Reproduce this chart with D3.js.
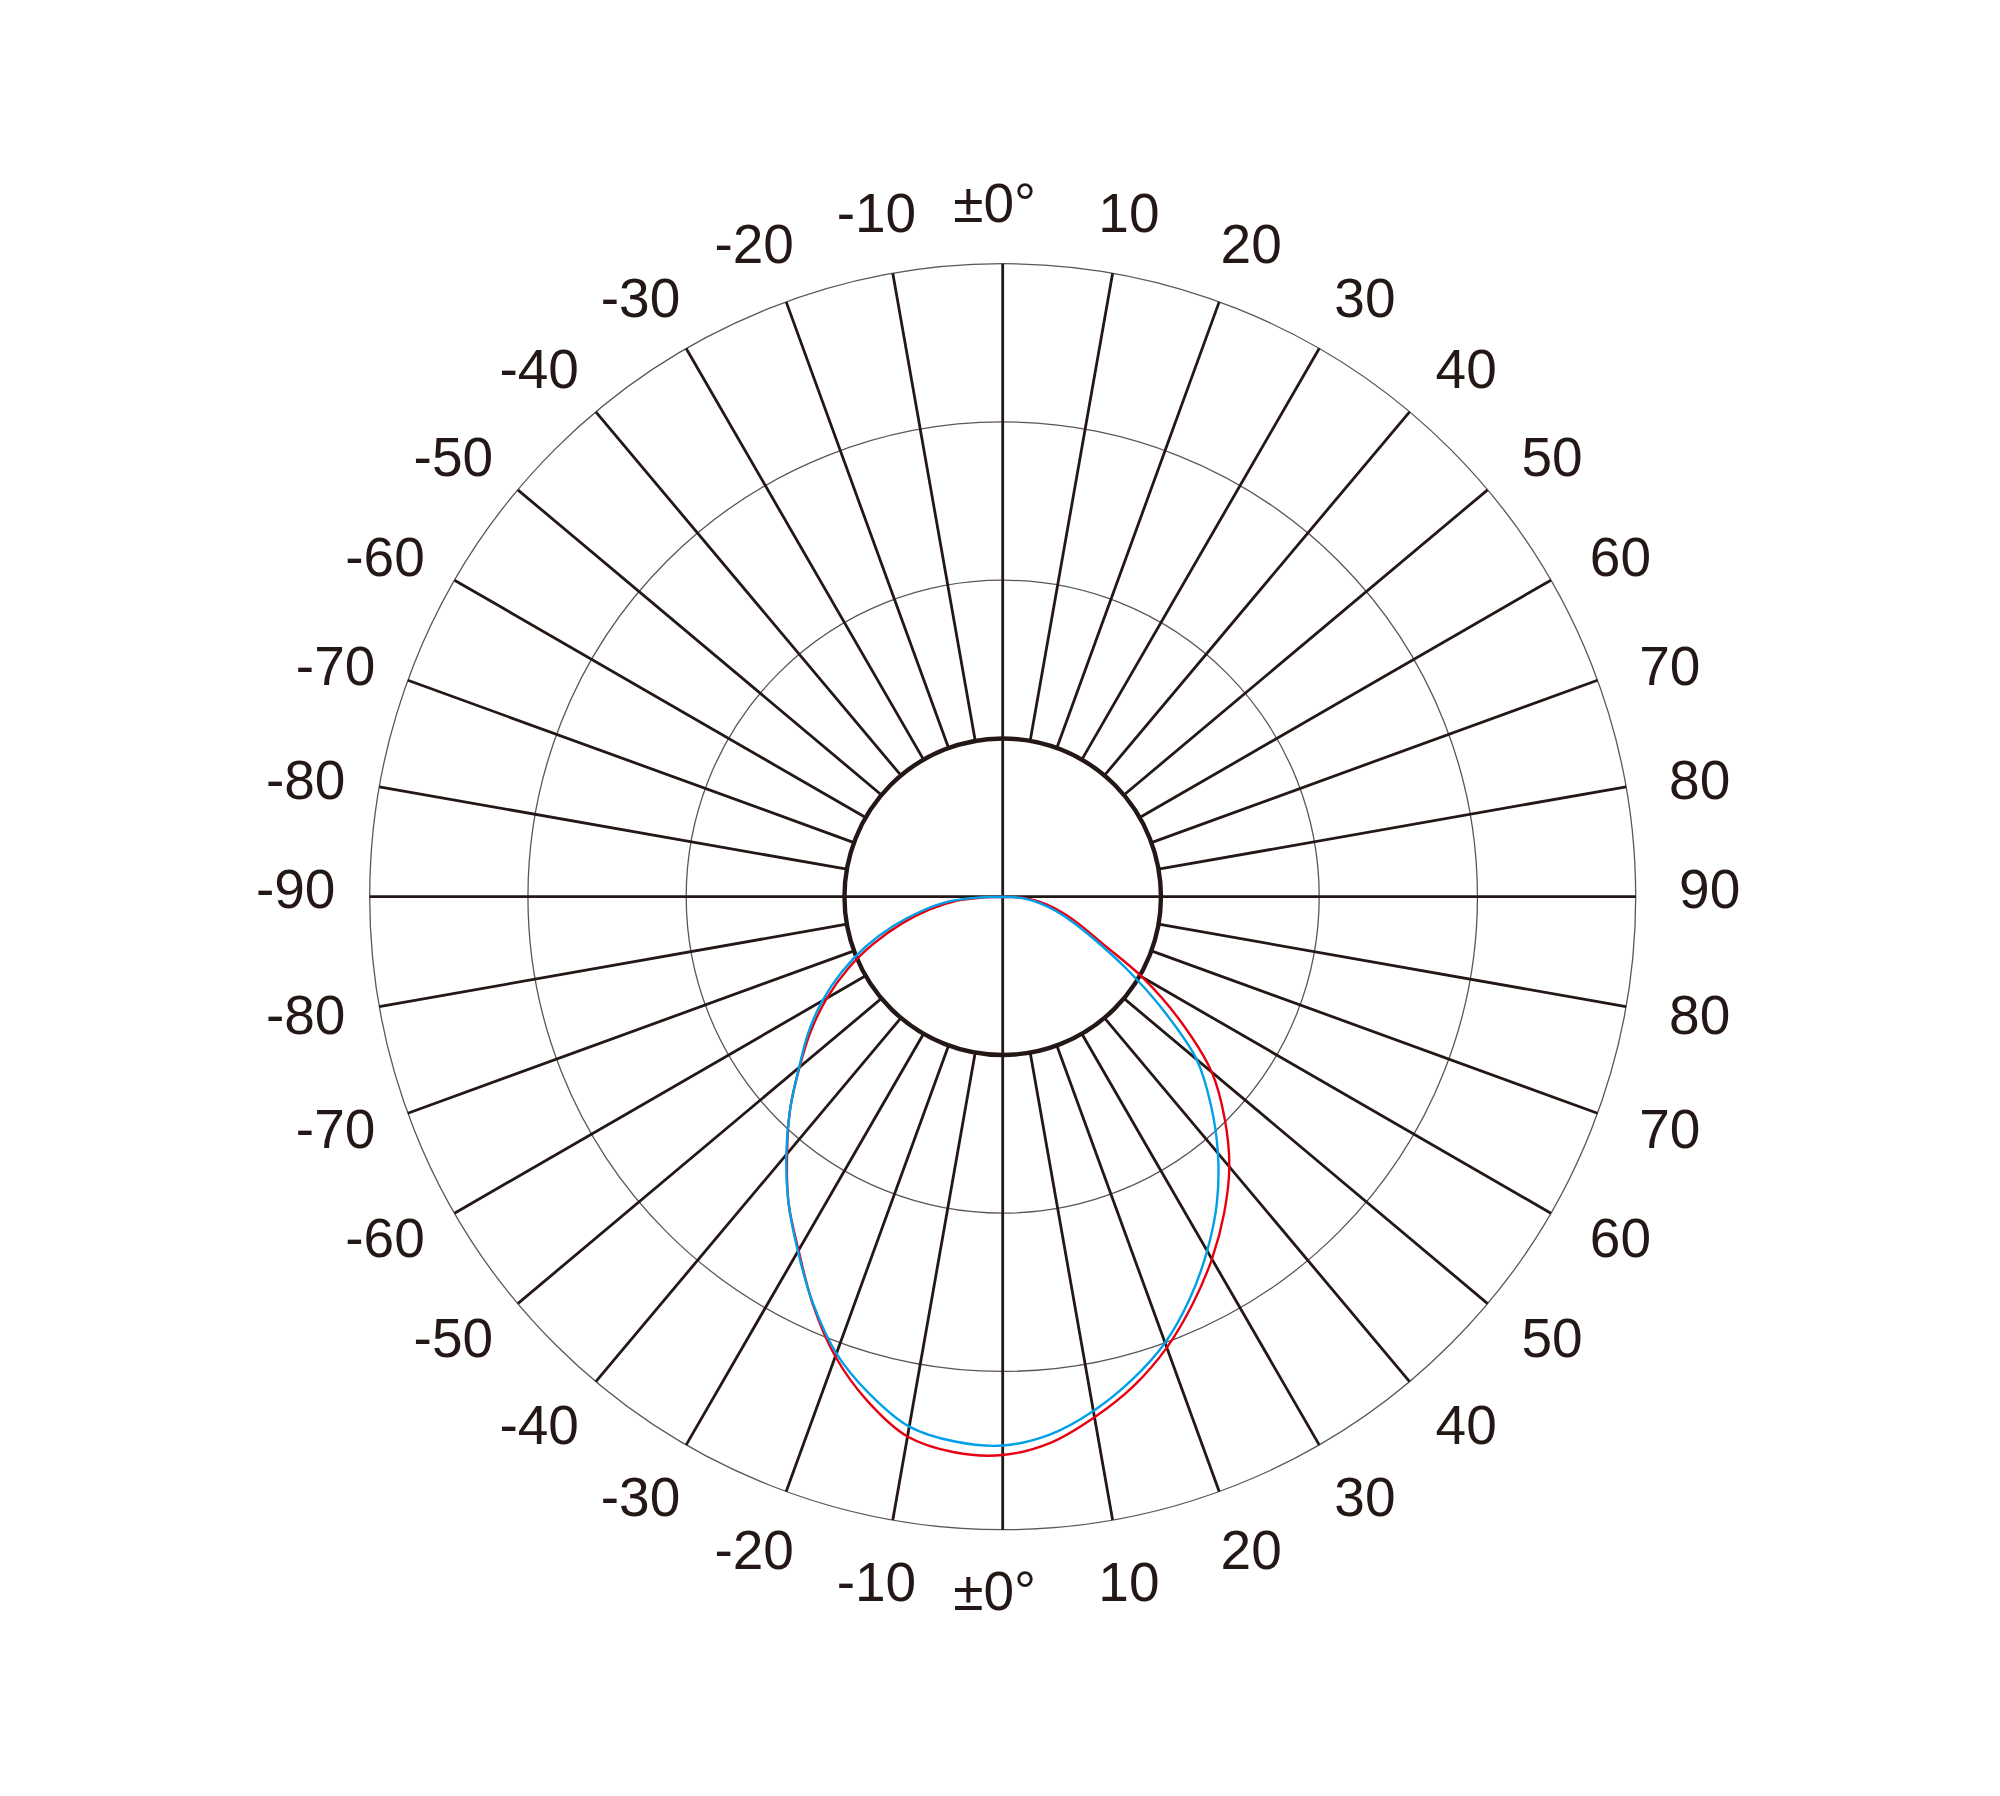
<!DOCTYPE html>
<html>
<head>
<meta charset="utf-8">
<script src="https://cdn.jsdelivr.net/npm/d3@7/dist/d3.min.js"></script>
<style>
  body { margin: 0; background: #fff; }
  svg text { font-family: 'Liberation Sans', Arial, sans-serif; fill: #231815; }
</style>
</head>
<body>
<svg width="2000" height="1796"></svg>
<script>
// angle from the 0° axis (degrees) and relative intensity of the two curves
const angles = [-90, -88, -85, -80, -75, -70, -65, -60, -55, -50, -45, -40, -35, -30, -25, -20, -15, -10, -5, 0,
  5, 10, 15, 20, 25, 30, 35, 40, 45, 50, 55, 60, 65, 70, 75, 80, 85, 88, 90];
const redValues = [0, 0.03, 0.072, 0.118, 0.166, 0.217, 0.27, 0.321, 0.37, 0.419, 0.475, 0.53, 0.59, 0.645, 0.71, 0.773, 0.825, 0.866, 0.881, 0.882,
  0.866, 0.835, 0.8, 0.758, 0.71, 0.661, 0.61, 0.557, 0.496, 0.431, 0.343, 0.255, 0.172, 0.13, 0.098, 0.07, 0.042, 0.016, 0];
const blueValues = [0, 0.036, 0.085, 0.13, 0.179, 0.23, 0.28, 0.329, 0.375, 0.42, 0.475, 0.532, 0.59, 0.647, 0.709, 0.768, 0.813, 0.85, 0.864, 0.867,
  0.853, 0.825, 0.79, 0.75, 0.7, 0.646, 0.59, 0.529, 0.465, 0.4, 0.306, 0.223, 0.16, 0.118, 0.087, 0.06, 0.035, 0.016, 0];

const rings = [0.25, 0.5, 0.75, 1];
const tickAngles = [-90, -80, -70, -60, -50, -40, -30, -20, -10, 0, 10, 20, 30, 40, 50, 60, 70, 80, 90];
const tickLabels = ['-90', '-80', '-70', '-60', '-50', '-40', '-30', '-20', '-10', '±0°', '10', '20', '30', '40', '50', '60', '70', '80', '90'];

const cx = 1002.7;
const cy = 896.7;
const ink = '#231815';
const fontSize = 55;
const rad = (deg) => (deg * Math.PI) / 180;

const svg = d3.select('svg');
svg.append('rect').attr('width', 2000).attr('height', 1796).attr('fill', '#fff');

const r = d3.scaleLinear().domain([0, 1]).range([0, 633]);
const g = svg.append('g').attr('transform', `translate(${cx},${cy})`);

// grey rings (the inner one is drawn thick further down)
g.selectAll('.ring')
  .data(rings.slice(1))
  .enter()
  .append('circle')
  .attr('class', 'ring')
  .attr('r', (d) => r(d))
  .attr('fill', 'none')
  .attr('stroke', '#595757')
  .attr('stroke-width', 1.3);

// spokes every 10°, from the inner circle to the outer ring
const spokes = d3.range(0, 360, 10).filter((a) => a % 90 !== 0);
g.selectAll('.spoke')
  .data(spokes)
  .enter()
  .append('line')
  .attr('class', 'spoke')
  .attr('x1', (a) => r(rings[0]) * Math.sin(rad(a)))
  .attr('y1', (a) => -r(rings[0]) * Math.cos(rad(a)))
  .attr('x2', (a) => r(1) * Math.sin(rad(a)))
  .attr('y2', (a) => -r(1) * Math.cos(rad(a)))
  .attr('stroke', ink)
  .attr('stroke-width', 2.8);

// the two axes cross the whole circle
g.selectAll('.axis')
  .data([0, 90])
  .enter()
  .append('line')
  .attr('class', 'axis')
  .attr('x1', (a) => -r(1) * Math.sin(rad(a)))
  .attr('y1', (a) => r(1) * Math.cos(rad(a)))
  .attr('x2', (a) => r(1) * Math.sin(rad(a)))
  .attr('y2', (a) => -r(1) * Math.cos(rad(a)))
  .attr('stroke', ink)
  .attr('stroke-width', 2.8);

g.append('circle')
  .attr('r', r(rings[0]))
  .attr('fill', 'none')
  .attr('stroke', ink)
  .attr('stroke-width', 4.4);

// curves: 0° points down, positive angles to the right
const curve = d3
  .lineRadial()
  .angle((d) => rad(180 - d[0]))
  .radius((d) => r(d[1]))
  .curve(d3.curveCatmullRom.alpha(0.5));

const series = [
  { color: '#e60012', values: redValues },
  { color: '#00a0e9', values: blueValues },
];

g.selectAll('.pattern')
  .data(series)
  .enter()
  .append('path')
  .attr('class', 'pattern')
  .attr('d', (s) => curve(angles.map((a, i) => [a, s.values[i]])))
  .attr('fill', 'none')
  .attr('stroke', (s) => s.color)
  .attr('stroke-width', 2.4);

// labels on the top half and mirrored on the bottom half
const labelData = [];
tickAngles.forEach((t, i) => {
  const a = t + 1.3 * Math.sin(rad(2 * t));
  labelData.push({ angle: a, tick: t, text: tickLabels[i] });
  if (Math.abs(t) !== 90) labelData.push({ angle: 180 - a, tick: t, text: tickLabels[i] });
});

const capHeight = fontSize * 0.716;

g.selectAll('.tick-label')
  .data(labelData)
  .enter()
  .append('text')
  .attr('class', 'tick-label')
  .attr('text-anchor', 'middle')
  .attr('font-size', fontSize)
  .attr('x', (d) => {
    const dist = 694 + 13 * Math.abs(Math.sin(rad(d.angle)));
    return dist * Math.sin(rad(d.angle)) + (d.tick === 0 ? -8 : 0);
  })
  .attr('y', (d) => {
    const dist = 694 + 13 * Math.abs(Math.sin(rad(d.angle)));
    const lift = Math.abs(d.tick) === 90 ? -8 : 0;
    return -dist * Math.cos(rad(d.angle)) + capHeight / 2 + lift;
  })
  .text((d) => d.text);
</script>
</body>
</html>
